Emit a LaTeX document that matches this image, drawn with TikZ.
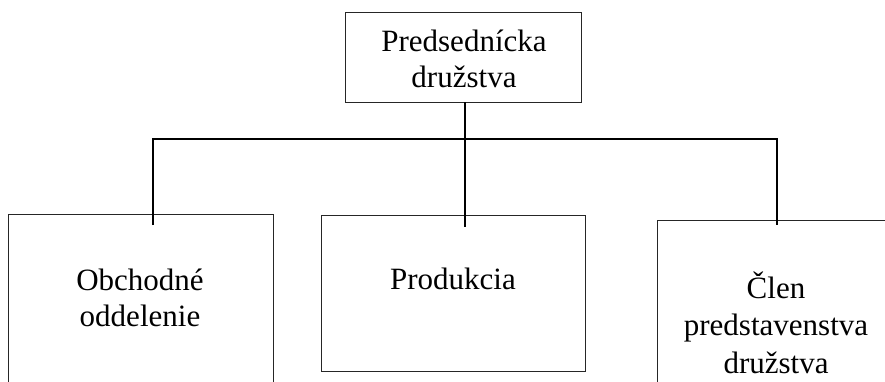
\documentclass[tikz,border=0pt]{standalone}
\usepackage{fontspec}
\setmainfont{Liberation Serif}
\begin{document}
\begin{tikzpicture}[x=1pt,y=-1pt,
  boxnode/.style={draw=black!85, line width=0.9pt, inner sep=0pt, outer sep=0pt},
  label/.style={font=\fontsize{31}{37}\selectfont, align=center, anchor=base, inner sep=0pt},
  conn/.style={line width=1.6pt, black}]
\useasboundingbox (0,0) rectangle (885,381);
\clip (0,0) rectangle (885,381);
% boxes
\node[boxnode, minimum width=236pt, minimum height=90pt] (top) at (463,57) {};
\node[boxnode, minimum width=265pt, minimum height=190pt] (left) at (140.5,309) {};
\node[boxnode, minimum width=264pt, minimum height=156pt] (mid) at (453,293) {};
\node[boxnode, minimum width=238pt, minimum height=190pt] (right) at (776,315) {};
% texts (anchor at baseline of last line)
\node[label] (ttop) at (464,87) {Predsednícka\\[-1pt]družstva};
\node[label] (tleft) at (140,326) {Obchodné\\[-1pt]oddelenie};
\node[label] (tmid) at (453,289) {Produkcia};
\node[label] (tright) at (776,373) {Člen\\[0pt]predstavenstva\\[1pt]družstva};
% connectors
\coordinate (stemtop) at ([xshift=2pt]top.south);
\coordinate (jl) at (153,139);
\coordinate (jr) at (777,139);
\coordinate (el) at (153,225);
\coordinate (em) at (465,227);
\coordinate (er) at (777,225);
\draw[conn] (stemtop) -- (em);
\draw[conn] (el) -- (jl) -- (jr) -- (er);
\end{tikzpicture}
\end{document}
